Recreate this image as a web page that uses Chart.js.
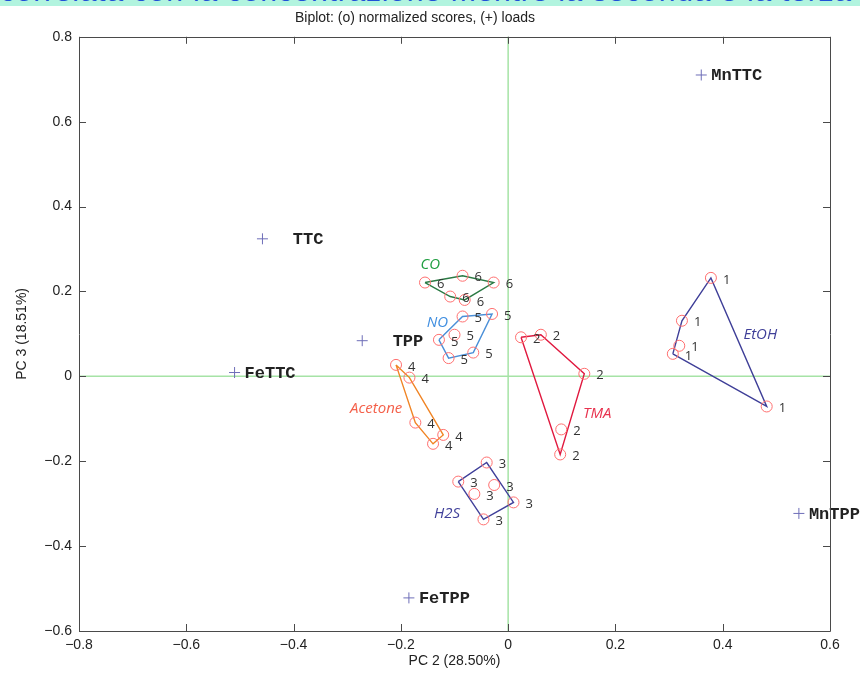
<!DOCTYPE html>
<html>
<head>
<meta charset="utf-8">
<script src="https://cdn.jsdelivr.net/npm/chart.js@4.4.1/dist/chart.umd.min.js"></script>
<style>
  html, body { margin: 0; padding: 0; background: #ffffff; }
  #wrap { position: relative; width: 860px; height: 674px; overflow: hidden; }
  #banner { position: absolute; left: 0; top: 0; width: 860px; height: 6px; background: #b2f4df; overflow: hidden; z-index: 2; }
  #banner span { position: absolute; left: 0; top: -24px; white-space: nowrap; font-family: "Liberation Sans", Arial, sans-serif; font-size: 30px; line-height: 30px; color: #1f52d6; letter-spacing: 0.8px; }
  canvas { position: absolute; left: 0; top: 0; }
</style>
</head>
<body>
<div id="wrap">
  <div id="banner"><span>correlata con la concentrazione mentre la seconda e la terza</span></div>
  <canvas id="c" width="860" height="674"></canvas>
</div>
<script>
// ---- Data (PC2 = x, PC3 = y) ----
const xTicks = [-0.8, -0.6, -0.4, -0.2, 0, 0.2, 0.4, 0.6];
const yTicks = [-0.6, -0.4, -0.2, 0, 0.2, 0.4, 0.6, 0.8];

const etohPC2 = [0.378, 0.324, 0.319, 0.307, 0.482];
const etohPC3 = [0.232, 0.131, 0.072, 0.053, -0.071];

const tmaPC2 = [0.024, 0.061, 0.142, 0.099, 0.097];
const tmaPC3 = [0.092, 0.098, 0.006, -0.125, -0.184];

const h2sPC2 = [-0.040, -0.093, -0.026, -0.063, 0.010, -0.046];
const h2sPC3 = [-0.203, -0.248, -0.256, -0.277, -0.297, -0.337];

const acetonePC2 = [-0.209, -0.184, -0.173, -0.121, -0.140];
const acetonePC3 = [0.027, -0.003, -0.109, -0.138, -0.159];

const noPC2 = [-0.085, -0.030, -0.100, -0.129, -0.111, -0.065];
const noPC3 = [0.141, 0.147, 0.098, 0.086, 0.043, 0.056];

const coPC2 = [-0.155, -0.085, -0.027, -0.108, -0.081];
const coPC3 = [0.221, 0.237, 0.221, 0.188, 0.180];

const groupNames = ['EtOH', 'TMA', 'H2S', 'Acetone', 'NO', 'CO'];
const groupIds = [1, 2, 3, 4, 5, 6];
const groupLabelPC2 = [0.470, 0.166, -0.114, -0.246, -0.132, -0.145];
const groupLabelPC3 = [0.098, -0.089, -0.324, -0.077, 0.126, 0.263];

const loadNames = ['MnTTC', '  TTC', '  TPP', 'FeTTC', 'MnTPP', 'FeTPP'];
const loadPC2 = [0.360, -0.458, -0.272, -0.510, 0.542, -0.185];
const loadPC3 = [0.710, 0.324, 0.084, 0.009, -0.323, -0.522];

// ---- Styles ----
const hullColors = ['#3f3f98', '#e0193f', '#40409a', '#f08424', '#4a8fd8', '#2b7a44'];
const labelColors = ['#3f3f98', '#e8334f', '#40409a', '#f4604a', '#3f8ee0', '#1f9e40'];
const scoreColor = '#ff6f6f';
const loadColor = '#6e6eb8';

const groupsX = [etohPC2, tmaPC2, h2sPC2, acetonePC2, noPC2, coPC2];
const groupsY = [etohPC3, tmaPC3, h2sPC3, acetonePC3, noPC3, coPC3];

function toPoints(xs, ys) { return xs.map((x, i) => ({ x: x, y: ys[i] })); }

function convexHull(pts) {
  const p = pts.slice().sort((a, b) => a.x === b.x ? a.y - b.y : a.x - b.x);
  const cross = (o, a, b) => (a.x - o.x) * (b.y - o.y) - (a.y - o.y) * (b.x - o.x);
  const lower = [];
  for (const q of p) { while (lower.length >= 2 && cross(lower[lower.length - 2], lower[lower.length - 1], q) <= 0) lower.pop(); lower.push(q); }
  const upper = [];
  for (let i = p.length - 1; i >= 0; i--) { const q = p[i]; while (upper.length >= 2 && cross(upper[upper.length - 2], upper[upper.length - 1], q) <= 0) upper.pop(); upper.push(q); }
  upper.pop(); lower.pop();
  const h = lower.concat(upper);
  h.push(h[0]);
  return h;
}

const datasets = [];
groupsX.forEach((xs, g) => {
  const pts = toPoints(xs, groupsY[g]);
  datasets.push({
    label: groupNames[g] + ' hull',
    data: convexHull(pts),
    showLine: true,
    borderColor: hullColors[g],
    borderWidth: 1.4,
    pointRadius: 0,
    fill: false,
    order: 3
  });
  datasets.push({
    label: groupNames[g],
    data: pts,
    showLine: false,
    pointStyle: 'circle',
    pointRadius: 5.5,
    pointBorderWidth: 1,
    pointBorderColor: scoreColor,
    pointBackgroundColor: 'rgba(0,0,0,0)',
    order: 2,
    groupIndex: g
  });
});
datasets.push({
  label: 'loads',
  data: toPoints(loadPC2, loadPC3),
  showLine: false,
  pointStyle: 'cross',
  pointRadius: 5.5,
  pointBorderWidth: 1,
  pointBorderColor: loadColor,
  order: 1,
  isLoads: true
});

function fmt(v) {
  if (Math.abs(v) < 1e-9) return '0';
  return (v < 0 ? '\u2212' : '') + Math.abs(v).toFixed(1);
}

const decorPlugin = {
  id: 'decor',
  beforeDatasetsDraw(chart) {
    const { ctx, chartArea: a, scales: { x, y } } = chart;
    ctx.save();
    ctx.strokeStyle = '#a6e3a6';
    ctx.lineWidth = 1.5;
    const x0 = x.getPixelForValue(0), y0 = y.getPixelForValue(0);
    ctx.beginPath();
    ctx.moveTo(a.left, y0); ctx.lineTo(a.right, y0);
    ctx.moveTo(x0, a.top); ctx.lineTo(x0, a.bottom);
    ctx.stroke();
    ctx.restore();
  },
  afterDatasetsDraw(chart) {
    const { ctx, scales: { x, y } } = chart;
    ctx.save();
    // score number labels
    ctx.font = '13px "Open Sans", "DejaVu Sans", sans-serif';
    ctx.fillStyle = '#333333';
    ctx.textAlign = 'left';
    ctx.textBaseline = 'middle';
    chart.data.datasets.forEach(ds => {
      if (ds.groupIndex === undefined) return;
      ds.data.forEach(p => {
        ctx.fillText(String(groupIds[ds.groupIndex]), x.getPixelForValue(p.x) + 12, y.getPixelForValue(p.y) + 2);
      });
    });
    // group names
    ctx.font = 'italic 15px "Open Sans", "DejaVu Sans", sans-serif';
    ctx.textAlign = 'center';
    groupNames.forEach((n, g) => {
      ctx.fillStyle = labelColors[g];
      ctx.fillText(n, x.getPixelForValue(groupLabelPC2[g]), y.getPixelForValue(groupLabelPC3[g]));
    });
    // load names
    ctx.font = 'bold 17px "Liberation Mono", "Courier New", monospace';
    ctx.fillStyle = '#222222';
    ctx.textAlign = 'left';
    loadNames.forEach((n, i) => {
      ctx.fillText(n, x.getPixelForValue(loadPC2[i]) + 10, y.getPixelForValue(loadPC3[i]) + 1);
    });
    ctx.restore();
  },
  afterDraw(chart) {
    const { ctx, chartArea: a, scales: { x, y } } = chart;
    ctx.save();
    ctx.strokeStyle = '#4a4a4a';
    ctx.lineWidth = 1;
    ctx.beginPath();
    ctx.rect(Math.round(a.left) + 0.5, Math.round(a.top) + 0.5, Math.round(a.right - a.left), Math.round(a.bottom - a.top));
    const tl = 7;
    xTicks.forEach(v => {
      const px = Math.round(x.getPixelForValue(v)) + 0.5;
      ctx.moveTo(px, a.bottom); ctx.lineTo(px, a.bottom - tl);
      ctx.moveTo(px, a.top); ctx.lineTo(px, a.top + tl);
    });
    yTicks.forEach(v => {
      const py = Math.round(y.getPixelForValue(v)) + 0.5;
      ctx.moveTo(a.left, py); ctx.lineTo(a.left + tl, py);
      ctx.moveTo(a.right, py); ctx.lineTo(a.right - tl, py);
    });
    ctx.stroke();
    ctx.restore();
  }
};

const tickFont = { family: '"Liberation Sans", Arial, sans-serif', size: 14 };

new Chart(document.getElementById('c'), {
  type: 'scatter',
  data: { datasets: datasets },
  options: {
    responsive: false,
    animation: false,
    events: [],
    layout: { padding: { left: 0, right: 30, top: 0, bottom: 0 } },
    plugins: {
      legend: { display: false },
      tooltip: { enabled: false },
      title: {
        display: true,
        text: 'Biplot: (o) normalized scores, (+) loads',
        color: '#222222',
        font: { family: '"Liberation Sans", Arial, sans-serif', size: 14, weight: 'normal' },
        padding: { top: 10, bottom: 10 }
      }
    },
    scales: {
      x: {
        type: 'linear',
        min: -0.8, max: 0.6,
        afterBuildTicks: s => { s.ticks = xTicks.map(v => ({ value: v })); },
        afterFit: s => { s.height = 43; },
        ticks: { callback: v => fmt(v), color: '#222222', font: tickFont, padding: 6, maxRotation: 0, autoSkip: false },
        grid: { display: false, drawTicks: false },
        border: { display: false },
        title: { display: true, text: 'PC 2 (28.50%)', color: '#222222', font: tickFont, padding: { top: 0, bottom: 4 } }
      },
      y: {
        type: 'linear',
        min: -0.6, max: 0.8,
        afterBuildTicks: s => { s.ticks = yTicks.map(v => ({ value: v })); },
        afterFit: s => { s.width = 79; },
        ticks: { callback: v => fmt(v), color: '#222222', font: tickFont, padding: 7, autoSkip: false },
        grid: { display: false, drawTicks: false },
        border: { display: false },
        title: { display: true, text: 'PC 3 (18.51%)', color: '#222222', font: tickFont, padding: { top: 14, bottom: 0 } }
      }
    }
  },
  plugins: [decorPlugin]
});
</script>
</body>
</html>
